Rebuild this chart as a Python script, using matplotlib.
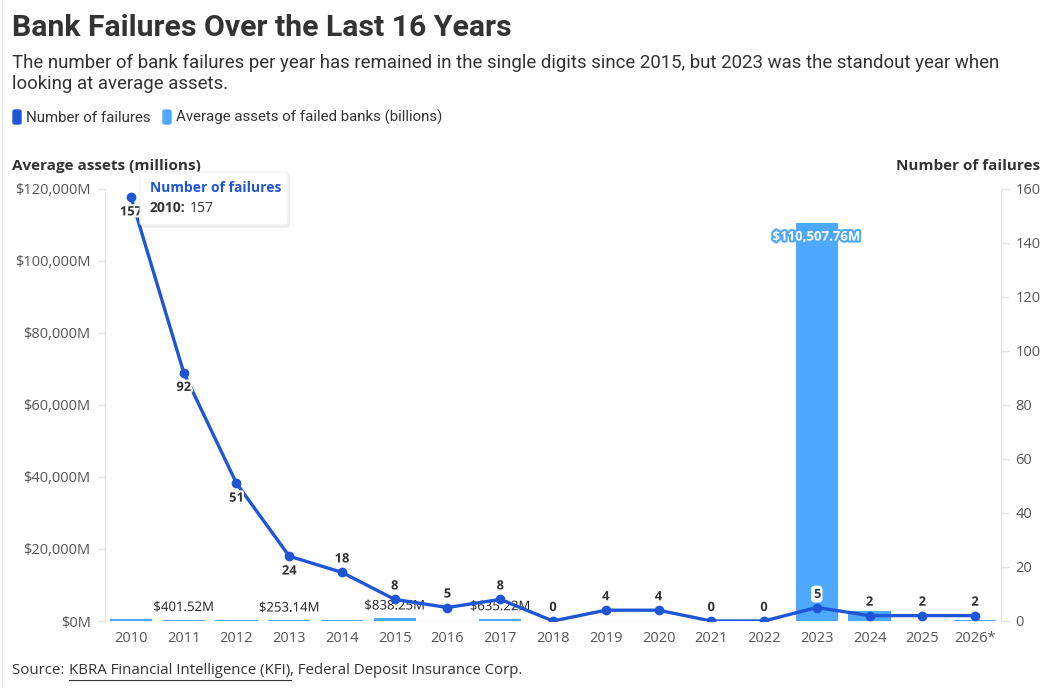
import matplotlib
matplotlib.use("Agg")
import matplotlib.pyplot as plt
import matplotlib.patheffects as pe
from matplotlib.patches import FancyBboxPatch
import numpy as np

years = ["2010", "2011", "2012", "2013", "2014", "2015", "2016", "2017", "2018",
         "2019", "2020", "2021", "2022", "2023", "2024", "2025", "2026*"]
failures = [157, 92, 51, 24, 18, 8, 5, 8, 0, 4, 4, 0, 0, 5, 2, 2, 2]
avg_assets = [450, 401.52, 200, 253.14, 180, 838.25, 60, 635.22, 0, 50, 120,
              0, 0, 110507.76, 2900, 50, 200]
bar_labels = {1: "$401.52M", 3: "$253.14M", 5: "$838.25M", 7: "$635.22M", 13: "$110,507.76M"}
left_ticks = [0, 20000, 40000, 60000, 80000, 100000, 120000]
right_ticks = [0, 20, 40, 60, 80, 100, 120, 140, 160]

LINE = "#1f56d6"
BAR = "#4ea8ff"
AX = "#e3e3e3"
TXT = "#333333"
TICK = "#555555"
FONT = "Open Sans"

plt.rcParams['font.family'] = [FONT, 'DejaVu Sans']

fig = plt.figure(figsize=(10.48, 6.88), dpi=100)
W, H = 1048, 688
renderer = fig.canvas.get_renderer()

def fx(px):
    return px / W

def fy(py):
    return 1 - py / H

def text_right_px(t):
    bb = t.get_window_extent(renderer=renderer)
    return bb.x1

ax = fig.add_axes([fx(104.6), fy(621), fx(1001.4) - fx(104.6), fy(189) - fy(621)])
ax2 = ax.twinx()

x = np.arange(len(years))
ax.bar(x, avg_assets, width=0.8, color=BAR, zorder=2)
ax.set_ylim(0, 120000)
ax.set_xlim(-0.5, len(years) - 0.5)
ax.set_yticks(left_ticks)
ax.set_yticklabels([f"${v:,}M" for v in left_ticks])
ax.set_xticks(x)
ax.set_xticklabels(years)

ax2.plot(x, failures, color=LINE, lw=2.4, marker='o', ms=6, zorder=5)
ax2.set_ylim(0, 160)
ax2.set_yticks(right_ticks)
ax2.set_yticklabels([str(v) for v in right_ticks])

for a in (ax, ax2):
    for s in a.spines.values():
        s.set_visible(False)
ax.spines['left'].set_visible(True)
ax.spines['left'].set_color(AX)
ax2.spines['right'].set_visible(True)
ax2.spines['right'].set_color(AX)
ax.tick_params(axis='y', colors=AX, labelcolor=TICK, labelsize=10.5, length=6, width=1, pad=4)
ax2.tick_params(axis='y', colors=AX, labelcolor=TICK, labelsize=10.5, length=6, width=1, pad=4)
ax.tick_params(axis='x', length=0, labelcolor=TICK, labelsize=10.5, pad=7)
ax.axhline(0, color=AX, lw=1, zorder=1)
ax.set_zorder(1)
ax2.set_zorder(2)
ax2.patch.set_visible(False)

# bar labels
for i, lab in bar_labels.items():
    if i == 13:
        ax.annotate(lab, (x[i], avg_assets[i]), xytext=(0, -10), textcoords='offset points',
                    ha='center', va='center', fontsize=9.5, fontweight='bold', color='white',
                    path_effects=[pe.withStroke(linewidth=3, foreground=BAR)], zorder=6)
    else:
        ax.annotate(lab, (x[i], avg_assets[i]), xytext=(0, 4), textcoords='offset points',
                    ha='center', va='bottom', fontsize=9.5, color='#222222', zorder=6,
                    path_effects=[pe.withStroke(linewidth=3, foreground='white')])

# line labels
for i, v in enumerate(failures):
    below = i < 4
    off = (0, -6) if below else (0, 5)
    if i == 13:
        kw = dict(bbox=dict(boxstyle="round,pad=0.15,rounding_size=0.3", fc='white', ec='none'))
    else:
        kw = dict(path_effects=[pe.withStroke(linewidth=3, foreground='white')])
    ax2.annotate(str(v), (x[i], v), xytext=off, textcoords='offset points',
                 ha='center', va='top' if below else 'bottom', fontsize=9.3,
                 fontweight='bold', color=TXT, zorder=7, **kw)

# Titles
fig.text(fx(12), fy(28), "Bank Failures Over the Last 16 Years", fontsize=21.8,
         fontweight='bold', color=TXT, va='center', ha='left', family='Roboto')
fig.text(fx(12), fy(63), "The number of bank failures per year has remained in the single digits since 2015, but 2023 was the standout year when",
         fontsize=13.4, color=TXT, va='center', ha='left', family='Roboto')
fig.text(fx(12), fy(84), "looking at average assets.", fontsize=13.4, color=TXT,
         va='center', ha='left', family='Roboto')

# legend
fig.patches.append(FancyBboxPatch((fx(13), fy(124)), fx(8), fy(110) - fy(124),
                                  boxstyle="round,pad=0,rounding_size=0.002",
                                  transform=fig.transFigure, color=LINE, figure=fig))
fig.text(fx(26), fy(117.5), "Number of failures", fontsize=10.8, color=TXT, va='center', ha='left', family='Roboto')
fig.patches.append(FancyBboxPatch((fx(163), fy(124)), fx(8), fy(110) - fy(124),
                                  boxstyle="round,pad=0,rounding_size=0.002",
                                  transform=fig.transFigure, color=BAR, figure=fig))
fig.text(fx(176), fy(117.5), "Average assets of failed banks (billions)", fontsize=10.8, color=TXT,
         va='center', ha='left', family='Roboto')

# axis titles
fig.text(fx(12), fy(166), "Average assets (millions)", fontsize=11, fontweight='bold',
         color=TXT, va='center', ha='left')
fig.text(fx(1040), fy(166), "Number of failures", fontsize=11, fontweight='bold',
         color=TXT, va='center', ha='right')

# tooltip
shadow = FancyBboxPatch((fx(142), fy(228)), fx(148), fy(174) - fy(228),
                        boxstyle="round,pad=0,rounding_size=0.003",
                        transform=fig.transFigure, facecolor='#000000', alpha=0.07,
                        edgecolor='none', figure=fig, zorder=9)
tip = FancyBboxPatch((fx(140), fy(225)), fx(148), fy(172) - fy(225),
                     boxstyle="round,pad=0,rounding_size=0.003",
                     transform=fig.transFigure, facecolor='white', edgecolor='#eeeeee',
                     lw=0.8, figure=fig, zorder=10)
fig.patches.extend([shadow, tip])
fig.text(fx(150), fy(188), "Number of failures", fontsize=10, fontweight='bold', color=LINE,
         va='center', ha='left', zorder=11)
t1 = fig.text(fx(150), fy(208), "2010:", fontsize=10, fontweight='bold', color=TXT,
              va='center', ha='left', zorder=11)
r = text_right_px(t1)
fig.text((r + 4) / W, fy(208), "157", fontsize=10, color=TXT, va='center', ha='left', zorder=11)

# source
SRC = 10.8
s1 = fig.text(fx(12), fy(671), "Source: ", fontsize=SRC, color=TXT, va='center', ha='left')
r1 = text_right_px(s1) + 1
s2 = fig.text(r1 / W, fy(671), "KBRA Financial Intelligence (KFI)", fontsize=SRC, color=TXT,
              va='center', ha='left')
r2 = text_right_px(s2)
fig.add_artist(plt.Line2D([r1 / W, r2 / W], [fy(680), fy(680)], color=TXT, lw=0.8,
                          transform=fig.transFigure))
fig.text(r2 / W, fy(671), ", Federal Deposit Insurance Corp.", fontsize=SRC, color=TXT,
         va='center', ha='left')

# card border
fig.add_artist(plt.Line2D([fx(2), fx(2)], [0, 1], color='#e6e6e6', lw=1, transform=fig.transFigure))

fig.savefig("out.png", dpi=100, facecolor='white')
